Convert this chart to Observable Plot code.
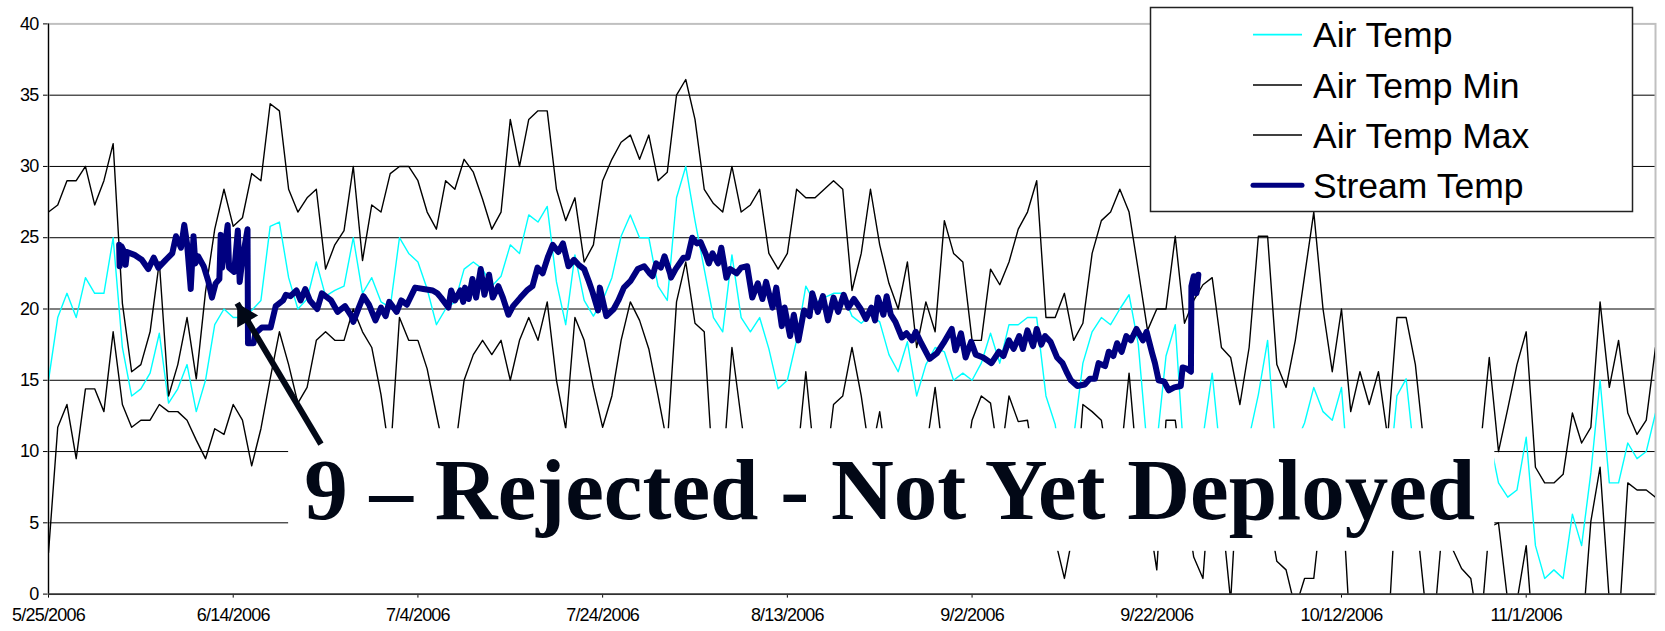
<!DOCTYPE html>
<html>
<head>
<meta charset="utf-8">
<script src="https://cdn.jsdelivr.net/npm/d3@7"></script>
<script src="https://cdn.jsdelivr.net/npm/@observablehq/plot@0.6"></script>
<style>
  html, body { margin: 0; padding: 0; background: #ffffff; }
  #chart { width: 1665px; height: 631px; }
</style>
</head>
<body>
<div id="chart"></div>
<script>
// ---------------- DATA ----------------
const startDate = "2006-05-25"; // day 0 of the daily series
const lastDay = 174;            // 2006-11-15

// daily air temperature (deg C), one value per day from 5/25/2006
const airTemp = [
  15.0,19.4,21.1,19.4,22.2,21.1,21.1,25.0,17.3,13.9,
  14.4,15.5,18.3,13.4,14.4,16.1,12.8,15.0,18.9,20.0,
  19.4,19.4,19.9,20.6,25.8,26.1,22.2,20.0,20.7,23.3,
  20.9,21.3,21.6,25.0,21.1,22.2,20.5,20.1,25.0,23.9,
  23.3,21.4,18.9,20.0,20.5,22.8,23.3,22.8,21.6,22.3,
  24.5,23.9,26.6,26.1,27.2,21.9,18.9,23.8,20.6,19.5,
  20.6,22.2,25.1,26.6,25.0,25.0,21.6,20.6,27.8,30.0,
  26.2,22.8,19.4,18.4,23.8,19.4,18.4,19.4,17.2,14.4,
  15.0,17.8,21.6,20.4,20.8,21.1,21.1,19.5,19.0,19.6,
  19.1,16.8,15.6,17.7,13.9,16.1,17.3,17.0,15.0,15.5,
  15.0,16.2,18.3,16.2,18.9,18.9,19.4,19.4,13.9,11.9,
  7.0,11.0,16.2,18.4,19.4,18.9,20.0,21.0,17.5,10.0,
  10.5,16.7,18.9,9.0,10.0,11.0,15.5,9.0,7.0,8.5,
  11.0,14.0,17.8,9.0,8.0,10.5,12.0,14.5,12.8,12.2,
  14.5,6.0,5.0,5.5,6.0,7.0,13.9,15.1,9.0,6.0,
  6.5,6.0,7.0,6.0,5.5,6.5,11.0,7.8,6.8,7.3,
  11.0,3.4,1.1,1.7,1.1,5.6,3.4,8.5,15.0,7.8,
  7.8,10.6,9.5,10.0,12.7
];

const airTempMin = [
  2.9,11.7,13.3,9.5,14.4,14.4,12.8,18.4,13.3,11.7,
  12.2,12.2,13.3,12.8,12.8,12.2,10.8,9.5,11.6,11.2,
  13.3,12.2,9.0,11.6,15.1,18.4,16.1,13.4,14.5,17.8,
  18.4,17.8,17.8,20.0,18.4,17.3,14.0,9.5,19.4,17.8,
  17.8,15.8,12.6,9.5,10.0,15.0,16.8,17.8,16.8,17.8,
  15.0,17.8,19.4,17.8,20.5,15.0,11.6,19.4,17.8,14.5,
  11.7,13.9,17.8,20.5,19.2,17.2,13.9,10.5,20.5,23.3,
  19.0,18.4,8.0,8.5,17.3,12.3,7.5,7.0,9.0,6.5,
  8.0,9.0,15.6,9.0,8.0,13.3,13.9,17.3,13.9,9.5,
  12.8,8.0,9.0,7.0,8.0,10.0,14.5,9.0,7.5,8.0,
  12.2,13.9,13.4,9.0,13.9,12.1,12.2,8.0,6.0,3.8,
  1.1,4.5,13.3,12.8,12.2,8.0,9.0,15.5,8.0,6.0,
  1.7,12.2,12.2,7.0,2.6,1.1,10.0,6.0,-0.5,11.0,
  8.0,10.0,6.0,2.3,1.7,-1.0,1.1,1.1,7.0,9.0,
  8.0,-3.4,-3.0,-3.5,-3.0,-3.4,8.0,6.5,6.0,-0.3,
  -2.3,5.3,3.2,1.8,1.1,-3.0,4.7,5.0,-0.5,-0.5,
  3.4,-5.0,-4.0,-5.0,-4.0,-3.0,-3.4,5.1,8.9,-0.5,
  -2.5,7.8,7.3,7.3,6.8
];

const airTempMax = [
  26.8,27.3,29.0,29.0,30.0,27.3,29.0,31.6,20.4,15.6,
  16.1,18.4,23.3,13.9,16.1,19.4,15.1,21.2,25.6,28.4,
  25.8,26.4,29.5,29.0,34.4,33.9,28.4,26.8,27.8,28.4,
  22.8,24.5,25.5,30.0,23.4,27.3,26.8,29.5,30.0,30.0,
  29.0,26.8,25.6,29.0,28.4,30.5,29.6,27.7,25.6,26.8,
  33.3,30.0,33.3,33.9,33.9,28.4,26.2,27.8,23.3,24.5,
  29.0,30.5,31.7,32.2,30.5,32.2,29.0,29.6,35.0,36.1,
  33.3,28.4,27.4,26.8,30.0,26.8,27.3,28.4,23.9,22.8,
  23.9,28.4,27.8,27.8,28.4,29.0,28.4,21.3,23.9,28.4,
  24.5,21.8,20.0,23.3,17.3,20.5,18.4,26.2,23.9,23.3,
  17.8,17.8,22.8,21.7,23.3,25.6,26.8,29.0,19.4,19.4,
  21.1,17.8,19.0,23.9,26.2,26.8,28.4,26.8,22.7,18.5,
  20.0,20.0,25.1,19.0,20.6,21.7,22.2,17.3,16.6,13.3,
  17.3,25.1,25.1,16.1,14.5,17.8,22.3,26.8,20.0,15.6,
  20.0,12.8,15.6,13.3,15.6,11.0,19.4,19.4,16.1,10.0,
  11.5,9.0,8.5,9.0,8.0,10.0,16.6,10.0,13.0,16.1,
  18.4,8.9,7.8,7.8,8.4,12.7,10.6,11.7,20.5,14.5,
  17.8,12.7,11.2,12.2,17.3
];

// stream temperature readings: [days since 5/25/2006, deg C]
const streamReadings = [
  [7.65,24.5],[7.7,23.0],[7.9,24.4],[8.2,24.0],[8.35,23.1],[8.5,24.0],[9.3,23.8],[10.1,23.45],
  [10.8,22.8],[11.4,23.6],[11.9,22.9],[12.7,23.45],[13.4,23.9],[13.8,25.1],[14.35,24.3],[14.7,25.9],
  [15.0,24.6],[15.4,21.4],[15.7,25.1],[15.9,23.2],[16.2,23.7],[16.8,23.0],[17.3,21.95],[17.7,20.8],
  [18.1,21.8],[18.5,22.1],[18.65,25.2],[18.8,22.9],[19.4,25.9],[19.55,22.9],[20.1,22.6],[20.5,25.5],
  [20.7,21.9],[21.0,23.5],[21.55,25.6],[21.6,17.6],[22.2,17.6],[22.4,18.3],[23.1,18.7],[24.05,18.7],
  [24.6,20.2],[25.4,20.6],[25.7,21.0],[26.2,20.9],[26.85,21.3],[27.3,20.6],[27.8,21.4],[28.3,20.6],
  [29.1,20.0],[29.6,21.1],[30.6,20.6],[31.3,19.8],[32.1,20.2],[32.8,19.5],[33.0,19.1],[33.6,20.1],
  [34.1,20.9],[34.7,20.3],[35.4,19.2],[36.0,20.1],[36.5,19.5],[36.9,20.5],[37.7,19.8],[38.2,20.6],
  [38.8,20.3],[39.7,21.5],[40.6,21.4],[41.6,21.3],[42.1,21.1],[42.5,20.8],[43.3,20.1],[43.6,21.3],
  [44.0,20.6],[44.6,21.3],[44.9,20.5],[45.1,21.5],[45.5,20.7],[45.9,22.1],[46.3,20.8],[46.8,22.8],
  [47.2,21.0],[47.7,22.4],[48.1,20.8],[48.7,21.6],[49.2,20.8],[49.8,19.6],[50.3,20.2],[51.1,20.8],
  [51.8,21.3],[52.4,21.6],[52.95,22.9],[53.5,22.5],[54.1,23.7],[54.6,24.5],[55.2,24.0],[55.7,24.6],
  [56.3,23.0],[56.9,23.45],[57.4,23.1],[58.0,22.8],[58.5,21.95],[58.9,21.2],[59.5,19.9],[59.7,21.5],
  [60.4,19.5],[61.2,20.0],[61.7,20.6],[62.3,21.5],[63.0,21.95],[63.8,22.8],[64.5,23.0],[65.1,22.5],
  [65.4,22.3],[65.8,23.2],[66.3,22.9],[66.7,23.7],[67.3,22.5],[67.4,22.2],[67.9,22.8],[68.75,23.6],
  [69.2,23.6],[69.7,25.0],[70.2,24.6],[70.6,24.7],[71.2,23.8],[71.5,23.2],[71.9,23.9],[72.5,23.2],
  [72.85,24.3],[73.4,22.2],[73.8,22.8],[74.5,22.5],[75.0,22.9],[75.65,23.0],[76.2,20.8],[76.8,21.8],
  [77.3,20.7],[77.7,21.9],[78.0,21.1],[78.4,20.1],[78.8,21.5],[79.4,18.8],[79.7,20.1],[80.3,18.1],
  [80.7,19.6],[81.2,17.8],[81.8,19.9],[82.4,19.5],[82.7,21.1],[83.3,19.8],[83.85,20.9],[84.4,19.2],
  [85.0,20.8],[85.5,19.8],[86.1,21.0],[86.6,20.1],[87.2,20.7],[87.95,20.0],[88.5,19.3],[89.1,20.1],
  [89.5,19.2],[89.8,20.8],[90.4,19.6],[90.75,20.9],[91.2,19.6],[91.7,19.1],[92.4,18.0],[92.9,18.3],
  [93.5,17.8],[93.9,18.4],[94.5,17.6],[95.4,16.5],[96.2,16.9],[96.9,17.6],[97.8,18.6],[98.2,17.1],
  [98.8,18.3],[99.3,16.6],[99.9,17.7],[100.4,16.8],[101.2,16.6],[102.1,16.2],[102.9,17.0],[103.4,16.7],
  [104.0,17.8],[104.5,17.2],[105.1,18.1],[105.5,17.2],[106.0,18.5],[106.6,17.4],[107.0,18.6],[107.5,17.5],
  [107.9,18.1],[108.5,17.7],[109.2,16.6],[109.8,16.2],[110.3,15.5],[110.7,15.0],[111.4,14.6],[112.2,14.7],
  [112.75,15.1],[113.3,15.1],[113.7,16.2],[114.4,16.0],[114.8,17.0],[115.3,16.7],[115.7,17.6],[116.2,17.0],
  [116.7,18.1],[117.2,17.8],[117.8,18.6],[118.5,17.8],[118.9,18.4],[119.5,16.9],[119.8,16.2],[120.2,15.0],
  [120.8,14.9],[121.3,14.3],[121.9,14.5],[122.6,14.6],[122.8,15.9],[123.3,15.8],[123.7,15.6],[123.75,21.6],
  [124.0,22.3],[124.3,21.1],[124.5,22.4]
];

const xTickDates = ["2006-05-25","2006-06-14","2006-07-04","2006-07-24","2006-08-13",
                    "2006-09-02","2006-09-22","2006-10-12","2006-11-01"];
const yTicks = [0,5,10,15,20,25,30,35,40];
const gridValues = [5,10,15,20,25,30,35];
const seriesNames = ["Air Temp","Air Temp Min","Air Temp Max","Stream Temp"];

// annotation (anchored in data units: days since 5/25/2006, deg C)
const annotationText = "9 \u2013 Rejected - Not Yet Deployed";
const annotationBox = {dayFrom: 26.0, dayTo: 156.6, low: 3.0, high: 11.6};
const annotationTextAnchor = {day: 27.7, value: 5.3};
const arrowTail = {day: 29.5, value: 10.52};
const arrowTip = {day: 20.43, value: 20.4};

// ---------------- BUILD ----------------
const day0 = Date.UTC(2006, 4, 25);
const dayToDate = d => new Date(day0 + d * 86400000);
const parseDay = s => { const [y,m,d] = s.split("-").map(Number); return new Date(Date.UTC(y, m - 1, d)); };
const fmt = d => `${d.getUTCMonth() + 1}/${d.getUTCDate()}/${d.getUTCFullYear()}`;

const daily = airTemp.map((v, i) => ({date: dayToDate(i), air: v, min: airTempMin[i], max: airTempMax[i]}));
const stream = streamReadings.map(([d, v]) => ({date: dayToDate(d), v}));

const colors = {air: "#00FFFF", min: "#000000", max: "#000000", stream: "#000080", ink: "#020816"};

// arrowhead geometry (pixels)
const headR = 9;
const headApex = 2 * Math.sqrt((Math.PI * headR * headR) / (Math.sqrt(3) * 3));
const ang = -30 * Math.PI / 180;
const ux = Math.sin(ang), uy = -Math.cos(ang); // unit direction toward tip (screen)
const headDx = -ux * headApex, headDy = -uy * headApex;

const chart = Plot.plot({
  width: 1665,
  height: 631,
  marginLeft: 48,
  marginRight: 10,
  marginTop: 23.4,
  marginBottom: 37.4,
  style: {fontFamily: "'Liberation Sans', Arial, sans-serif", fontSize: "18px", color: "#000", background: "#fff", overflow: "visible"},
  x: {type: "utc", domain: [dayToDate(0), dayToDate(lastDay)], ticks: xTickDates.map(parseDay), tickFormat: fmt, tickSize: 4, tickPadding: 10, label: null},
  y: {domain: [0, 40], ticks: yTicks, tickSize: 5, tickPadding: 5, label: null},
  marks: [
    Plot.ruleY(gridValues, {stroke: "#000", strokeWidth: 1}),
    Plot.frame({stroke: "#c0c0c0", strokeWidth: 2}),
    Plot.line(daily, {x: "date", y: "air", stroke: colors.air, strokeWidth: 1.4, clip: true}),
    Plot.line(daily, {x: "date", y: "min", stroke: colors.min, strokeWidth: 1.4, clip: true}),
    Plot.line(daily, {x: "date", y: "max", stroke: colors.max, strokeWidth: 1.4, clip: true}),
    Plot.line(stream, {x: "date", y: "v", stroke: colors.stream, strokeWidth: 6, strokeLinejoin: "round", strokeLinecap: "round"}),
    Plot.ruleX([dayToDate(0)], {stroke: "#000", strokeWidth: 1.2}),
    Plot.ruleY([0], {stroke: "#000", strokeWidth: 1.2}),
    // annotation
    Plot.rect([annotationBox], {x1: d => dayToDate(d.dayFrom), x2: d => dayToDate(d.dayTo), y1: "low", y2: "high", fill: "#fff"}),
    Plot.link([0], {
      x1: () => dayToDate(arrowTail.day), y1: () => arrowTail.value,
      x2: () => dayToDate(arrowTip.day), y2: () => arrowTip.value,
      stroke: colors.ink, strokeWidth: 6
    }),
    Plot.dot([0], {x: () => dayToDate(arrowTip.day), y: () => arrowTip.value, dx: headDx, dy: headDy,
      symbol: "triangle", r: headR, rotate: -30, fill: colors.ink, stroke: "none"}),
    Plot.text([annotationText], {x: () => dayToDate(annotationTextAnchor.day), y: () => annotationTextAnchor.value,
      text: d => d, textAnchor: "start", lineAnchor: "bottom", fontSize: 87, fontWeight: "bold",
      fontFamily: "'Liberation Serif', 'Times New Roman', serif", fill: colors.ink})
  ]
});

// condensed axis labels
d3.select(chart).selectAll('g[aria-label="x-axis tick label"], g[aria-label="y-axis tick label"]')
  .style("letter-spacing", "-0.8px").attr("fill", "#000");

// legend (inside plot area, top right)
{
  const g = d3.select(chart).append("g").attr("aria-label", "legend");
  g.append("rect").attr("x", 1150.5).attr("y", 7.5).attr("width", 482).attr("height", 204)
    .attr("fill", "#fff").attr("stroke", "#222").attr("stroke-width", 1.5);
  const lineColors = [colors.air, colors.min, colors.max, colors.stream];
  const lineWidths = [1.8, 1.5, 1.5, 5];
  seriesNames.forEach((name, i) => {
    const y = 34.7 + i * 50.2;
    g.append("line").attr("x1", 1253).attr("x2", 1302).attr("y1", y).attr("y2", y)
      .attr("stroke", lineColors[i]).attr("stroke-width", lineWidths[i])
      .attr("stroke-linecap", i === 3 ? "round" : "butt");
    g.append("text").attr("x", 1313).attr("y", y + 12.6).text(name)
      .attr("fill", "#000").attr("text-anchor", "start")
      .style("font-family", "'Liberation Sans', Arial, sans-serif").style("font-size", "35.5px")
      .style("letter-spacing", "0px");
  });
}

document.getElementById("chart").appendChild(chart);
</script>
</body>
</html>
